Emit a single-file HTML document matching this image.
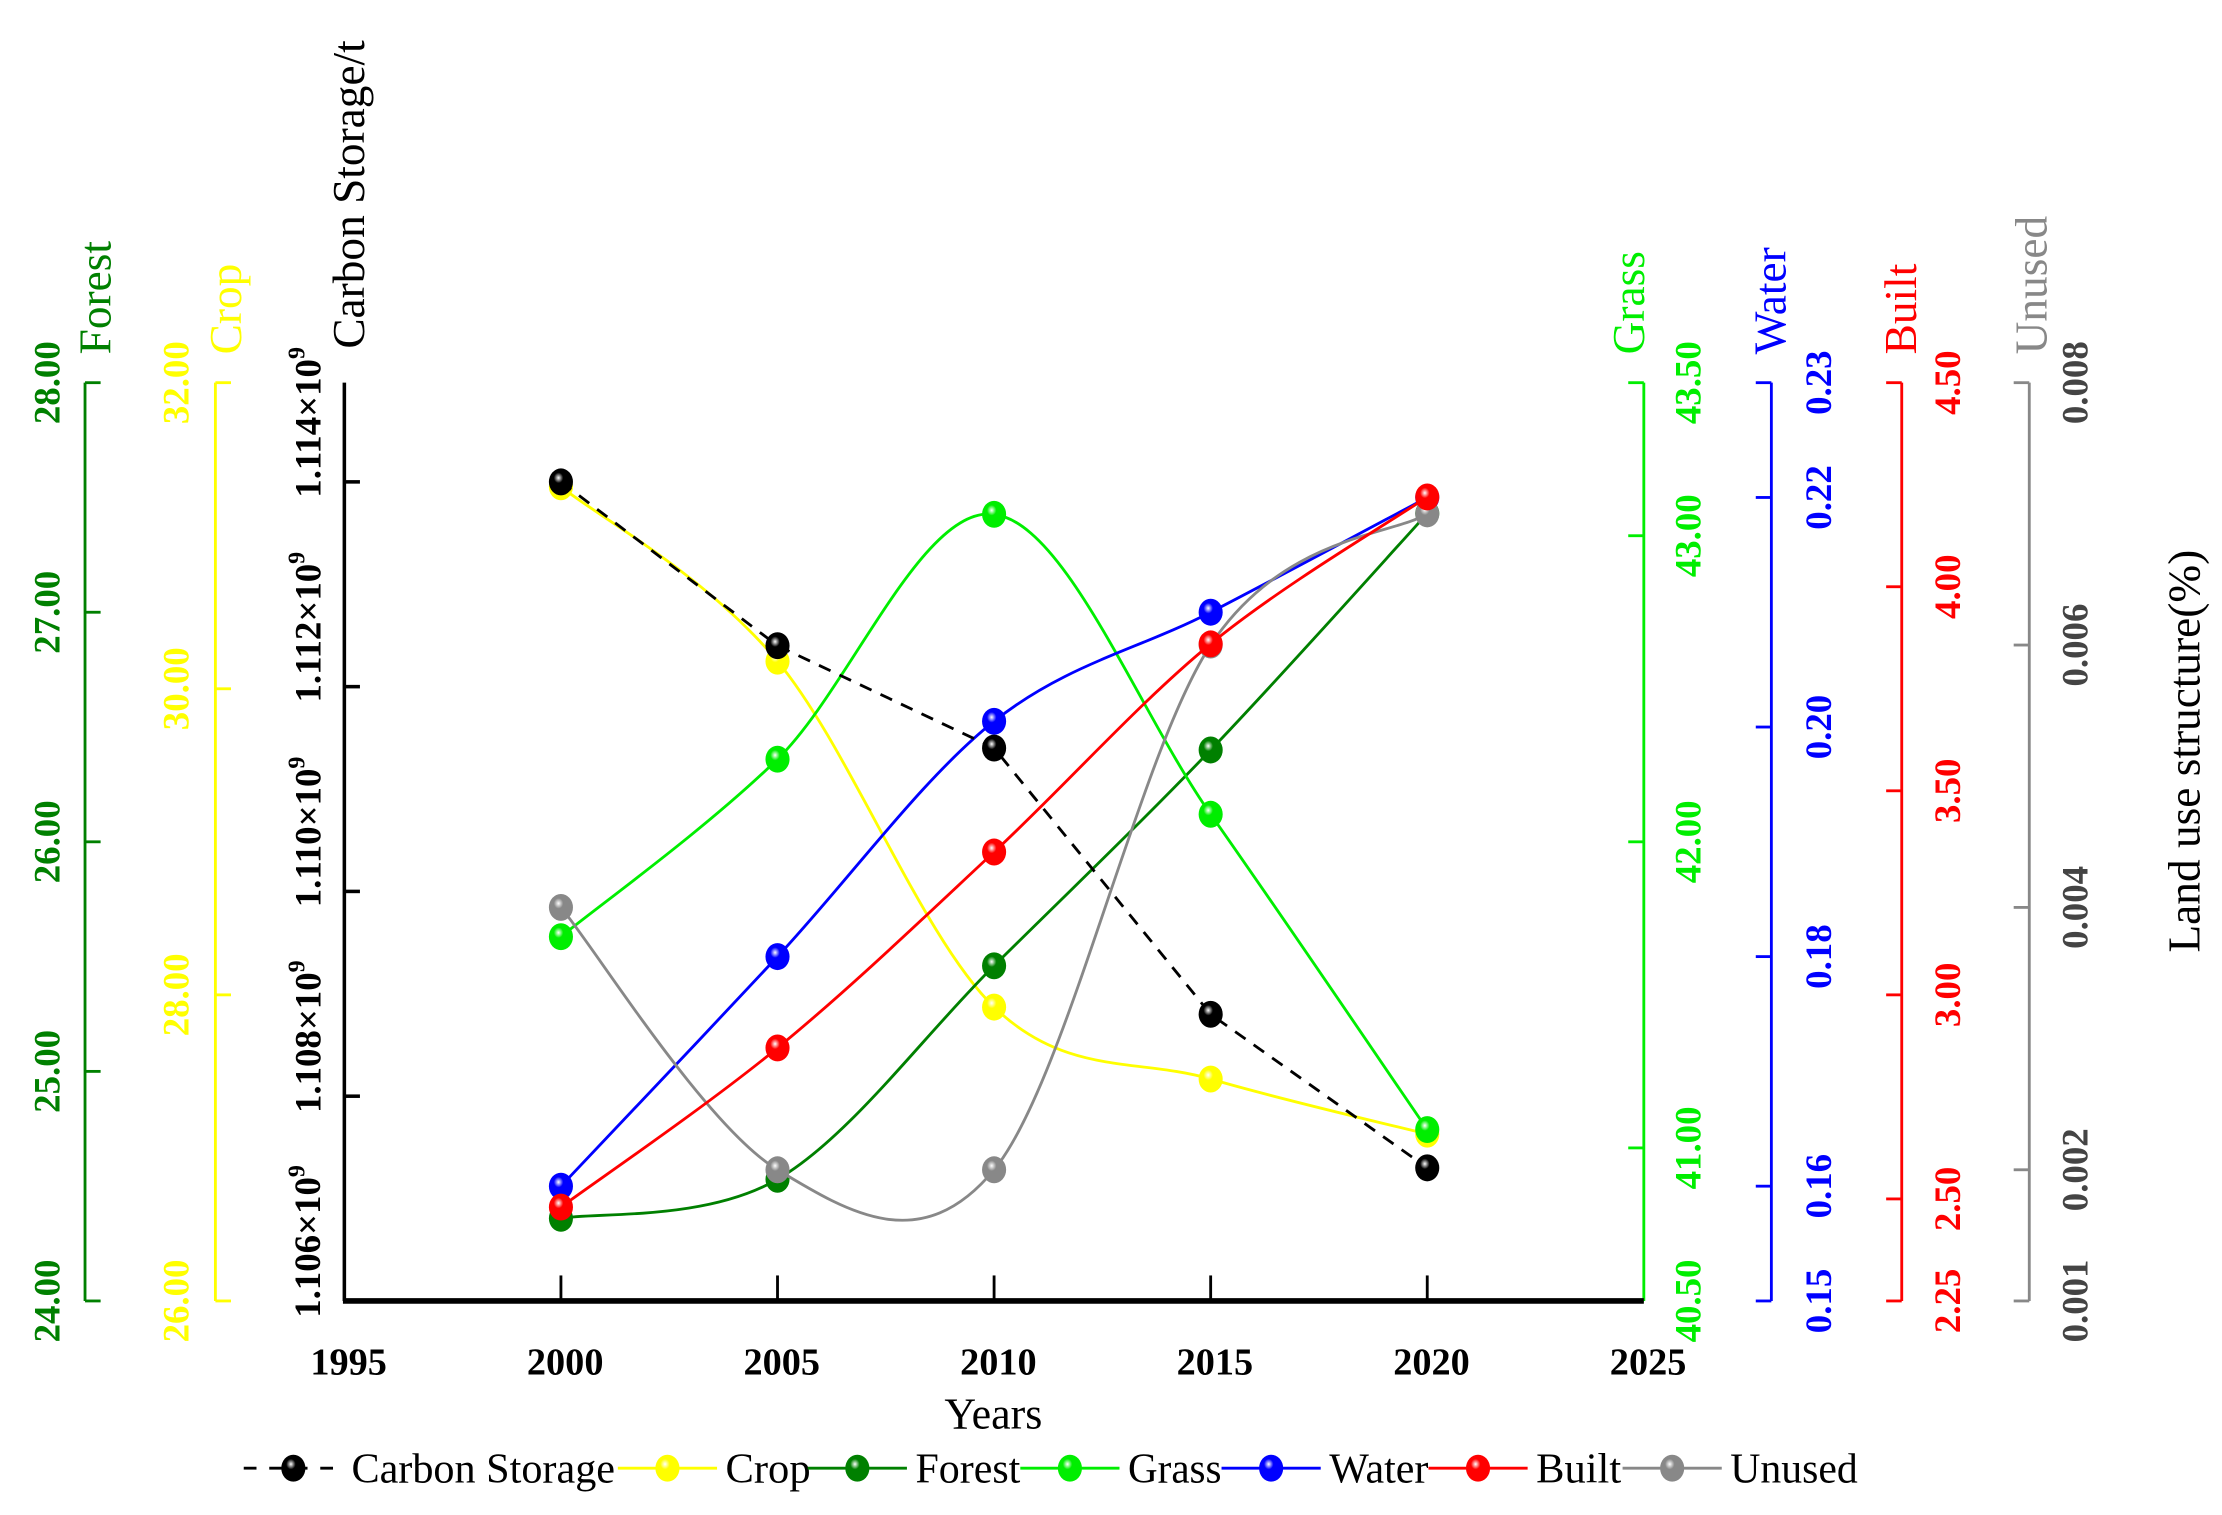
<!DOCTYPE html>
<html><head><meta charset="utf-8"><style>
html,body{margin:0;padding:0;background:#fff;}
svg{display:block;font-family:"Liberation Serif",serif;}
</style></head><body>
<svg id="chart" width="2222" height="1515" viewBox="0 0 1568 1069" xmlns="http://www.w3.org/2000/svg">
<defs>
</defs>
<g id="axes"></g>
<g id="series"></g>
<g id="legend"></g>
</svg>
<script>
const years = [2000, 2005, 2010, 2015, 2020];
const xTicks = [1995, 2000, 2005, 2010, 2015, 2020, 2025];
const carbonVals = [1.1140, 1.1124, 1.1114, 1.1088, 1.1073];
const cropVals = [31.32, 30.18, 27.92, 27.45, 27.09];
const forestVals = [24.36, 24.53, 25.46, 26.40, 27.43];
const grassVals = [41.69, 42.27, 43.07, 42.09, 41.06];
const waterVals = [0.160, 0.180, 0.2005, 0.210, 0.220];
const builtVals = [2.48, 2.87, 3.35, 3.86, 4.22];
const unusedVals = [0.0040, 0.0020, 0.0020, 0.0060, 0.0070];
const carbonTicks = [1.106, 1.108, 1.110, 1.112, 1.114];
const forestTicks = [24, 25, 26, 27, 28];
const cropTicks = [26, 28, 30, 32];
const grassTicks = [40.5, 41, 42, 43, 43.5];
const waterTicks = [0.15, 0.16, 0.18, 0.20, 0.22, 0.23];
const builtTicks = [2.25, 2.5, 3, 3.5, 4, 4.5];
const unusedTicks = [0.001, 0.002, 0.004, 0.006, 0.008];

const NS = "http://www.w3.org/2000/svg";
const Y0 = 918, Y1 = 270;
const xS = v => 243 + (v - 1995) * (1160 - 243) / 30;
function lin(d0, d1){ return v => Y0 + (v - d0) * (Y1 - Y0) / (d1 - d0); }
const yCarbon = v => 918 - (v - 1.106) * 72.25 / 0.001;
const yForest = lin(24, 28), yCrop = lin(26, 32), yGrass = lin(40.5, 43.5),
      yWater = lin(0.15, 0.23), yBuilt = lin(2.25, 4.5), yUnused = lin(0.001, 0.008);

function mk(tag, attrs, parent){ const e = document.createElementNS(NS, tag); for (const k in attrs) e.setAttribute(k, attrs[k]); parent.appendChild(e); return e; }
const axesG = document.getElementById('axes'), seriesG = document.getElementById('series'), legG = document.getElementById('legend');
const defs = document.querySelector('defs');

const colors = {black:'#000000', yellow:'#ffff00', dgreen:'#008000', green:'#00ee00', blue:'#0000ff', red:'#ff0000', gray:'#888888'};
for (const k in colors){
  const g = mk('radialGradient', {id:'g-'+k, cx:'0.4', cy:'0.35', r:'0.65'}, defs);
  mk('stop', {offset:'0', 'stop-color':'#ffffff'}, g);
  mk('stop', {offset:'0.3', 'stop-color':colors[k]}, g);
  mk('stop', {offset:'1', 'stop-color':colors[k]}, g);
}

function vtext(parent, x, y, txt, opts){
  const t = mk('text', {x:x, y:y, transform:`rotate(-90 ${x} ${y})`, 'text-anchor':opts.anchor||'middle', 'font-size':opts.size||22, 'font-weight':opts.bold?'bold':'normal', fill:opts.fill||'#000'}, parent);
  t.textContent = txt; return t;
}

function sideAxis(name, ax, dir, ticks, scale, fmt, color, labelX, title, titleX, tickColor){
  const g = mk('g', {}, axesG);
  
  
  mk('line', {x1:ax, y1:Y1, x2:ax, y2:Y0, stroke:color, 'stroke-width':2}, g);
  ticks.forEach(t => {
    const y = scale(t);
    mk('line', {x1:ax, y1:y, x2:ax + dir*11, y2:y, stroke:color, 'stroke-width':2}, g);
    const lb = vtext(g, labelX, y, fmt(t), {bold:true, fill:tickColor||color, size:26});
    
    
  });
  const tt = vtext(g, titleX, 250, title, {anchor:'start', size:32, fill:color});
  
  
}
sideAxis('forest', 60, 1, forestTicks, yForest, v => v.toFixed(2), '#008000', 42, 'Forest', 78);
sideAxis('crop', 152, 1, cropTicks, yCrop, v => v.toFixed(2), '#ffff00', 133, 'Crop', 170);
sideAxis('grass', 1160, -1, grassTicks, yGrass, v => v.toFixed(2), '#00ee00', 1200, 'Grass', 1160);
sideAxis('water', 1250, -1, waterTicks, yWater, v => v.toFixed(2), '#0000ff', 1292, 'Water', 1260);
sideAxis('built', 1342, -1, builtTicks, yBuilt, v => v.toFixed(2), '#ff0000', 1383, 'Built', 1352);
sideAxis('unused', 1432, -1, unusedTicks, yUnused, v => v.toFixed(3), '#888888', 1473, 'Unused', 1444, '#444444');

{
  const g = mk('g', {}, axesG);
  
  
  mk('line', {x1:243, y1:Y1, x2:243, y2:Y0, stroke:'#000', 'stroke-width':2.5}, g);
  carbonTicks.forEach(t => {
    const y = yCarbon(t);
    mk('line', {x1:243, y1:y, x2:254, y2:y, stroke:'#000', 'stroke-width':2.5}, g);
    const ly = y - 42;
    const tx = mk('text', {x:226, y:ly, transform:`rotate(-90 226 ${ly})`, 'text-anchor':'middle', 'font-size':26, 'font-weight':'bold', fill:'#000'}, g);
    
    
    tx.textContent = t.toFixed(3) + '×10';
    const sup = mk('tspan', {dy:-11, 'font-size':17}, tx);
    sup.textContent = '9';
  });
  const tt = vtext(g, 257, 246, 'Carbon Storage/t', {anchor:'start', size:32});
  
  
  const lt = vtext(g, 1552, 530, 'Land use structure(%)', {size:32});
  
  
}
{
  const g = mk('g', {}, axesG);
  
  
  mk('line', {x1:242, y1:Y0, x2:1160, y2:Y0, stroke:'#000', 'stroke-width':4}, g);
  xTicks.forEach(t => {
    const x = xS(t);
    if (t > 1995 && t < 2025) mk('line', {x1:x, y1:Y0, x2:x, y2:Y0-18, stroke:'#000', 'stroke-width':2}, g);
    const lb = mk('text', {x:x+3, y:970, 'text-anchor':'middle', 'font-size':27, 'font-weight':'bold', textLength:54, lengthAdjust:'spacingAndGlyphs'}, g);
    
    
    lb.textContent = t;
  });
  const xt = mk('text', {x:701, y:1008, 'text-anchor':'middle', 'font-size':31}, g);
  
  
  xt.textContent = 'Years';
}

function smooth(pts){
  let d = `M${pts[0][0]},${pts[0][1]}`;
  for (let i = 0; i < pts.length - 1; i++){
    const p0 = pts[i-1] || pts[i], p1 = pts[i], p2 = pts[i+1], p3 = pts[i+2] || p2;
    const c1 = [p1[0] + (p2[0]-p0[0])/6, p1[1] + (p2[1]-p0[1])/6];
    const c2 = [p2[0] - (p3[0]-p1[0])/6, p2[1] - (p3[1]-p1[1])/6];
    d += ` C${c1[0]},${c1[1]} ${c2[0]},${c2[1]} ${p2[0]},${p2[1]}`;
  }
  return d;
}
const seriesDefs = [
  {name:'crop', vals:cropVals, scale:yCrop, col:'yellow'},
  {name:'forest', vals:forestVals, scale:yForest, col:'dgreen'},
  {name:'grass', vals:grassVals, scale:yGrass, col:'green'},
  {name:'water', vals:waterVals, scale:yWater, col:'blue'},
  {name:'unused', vals:unusedVals, scale:yUnused, col:'gray'},
  {name:'built', vals:builtVals, scale:yBuilt, col:'red'},
  {name:'carbon', vals:carbonVals, scale:yCarbon, col:'black', dash:true},
];
seriesDefs.forEach(s => {
  const g = mk('g', {}, seriesG);
  
  
  const pts = s.vals.map((v, i) => [xS(years[i]), s.scale(v)]);
  const p = mk('path', {d: s.dash ? pts.map((q,i)=>(i?'L':'M')+q[0]+','+q[1]).join(' ') : smooth(pts), fill:'none', stroke:colors[s.col], 'stroke-width':2, 'stroke-dasharray': s.dash ? '9,7' : 'none'}, g);
  
  
  pts.forEach(q => {
    const c = mk('ellipse', {cx:q[0], cy:q[1], rx:8.5, ry:9.5, fill:`url(#g-${s.col})`}, g);
    
    
  });
});

const legendItems = [
  {label:'Carbon Storage', col:'black', x1:172, dash:true, w:186},
  {label:'Crop', col:'yellow', x1:436, w:60},
  {label:'Forest', col:'dgreen', x1:570, w:74},
  {label:'Grass', col:'green', x1:720, w:66},
  {label:'Water', col:'blue', x1:862, w:70},
  {label:'Built', col:'red', x1:1008, w:60},
  {label:'Unused', col:'gray', x1:1145, w:90},
];
legendItems.forEach(it => {
  const g = mk('g', {}, legG);
  
  
  const y = 1036;
  mk('line', {x1:it.x1, y1:y, x2:it.x1+70, y2:y, stroke:colors[it.col], 'stroke-width':2, 'stroke-dasharray': it.dash ? '9,9' : 'none'}, g);
  mk('ellipse', {cx:it.x1+35, cy:y, rx:8.5, ry:9.5, fill:`url(#g-${it.col})`}, g);
  const t = mk('text', {x:it.x1+76, y:y+10, 'font-size':30, textLength:it.w, lengthAdjust:'spacingAndGlyphs'}, g);
  t.textContent = it.label;
});
</script>
</body></html>
